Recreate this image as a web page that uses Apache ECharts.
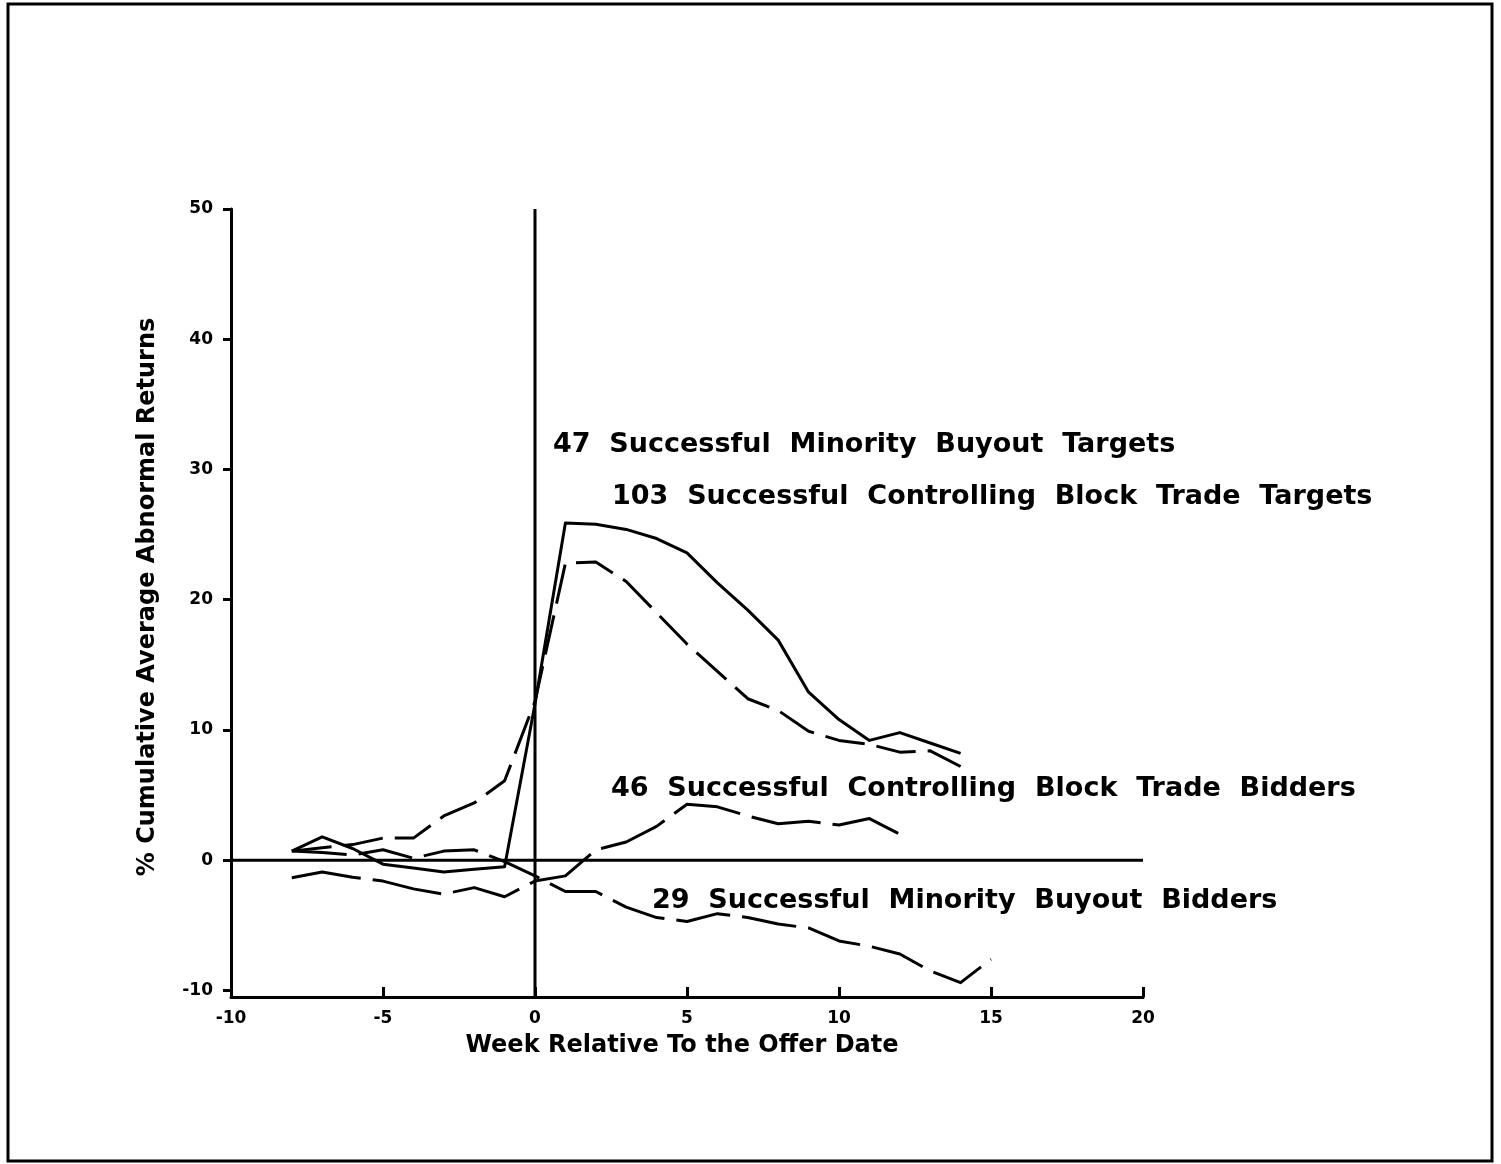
<!DOCTYPE html>
<html>
<head>
<meta charset="utf-8">
<script src="https://cdn.jsdelivr.net/npm/echarts@6/dist/echarts.min.js"></script>
<style>
html,body{margin:0;padding:0;background:#fff;}
#chart{width:1501px;height:1164px;}
</style>
</head>
<body>
<div id="chart"></div>
<script>
// ---- data ----
const weeksTargets = [-8,-7,-6,-5,-4,-3,-2,-1,0,1,2,3,4,5,6,7,8,9,10,11,12,13,14];
const minorityTargets = [0.7,1.8,0.9,-0.3,-0.6,-0.9,-0.7,-0.5,12.0,25.9,25.8,25.4,24.7,23.6,21.3,19.2,16.9,12.9,10.8,9.2,9.8,9.0,8.2];
const controllingTargets = [0.7,0.95,1.2,1.7,1.7,3.4,4.4,6.1,12.2,22.8,22.9,21.4,19.0,16.6,14.5,12.4,11.5,9.9,9.2,8.9,8.3,8.4,7.2];

const weeksMinBidders = [-8,-7,-6,-5,-4,-3,-2,-1,0,1,2,3,4,5,6,7,8,9,10,11,12,13,14,15];
const minorityBidders = [0.7,0.6,0.4,0.8,0.15,0.7,0.8,-0.1,-1.2,-2.4,-2.4,-3.6,-4.4,-4.7,-4.1,-4.4,-4.9,-5.2,-6.2,-6.6,-7.2,-8.5,-9.4,-7.6];

const weeksCtlBidders = [-8,-7,-6,-5,-4,-3,-2,-1,0,1,2,3,4,5,6,7,8,9,10,11,12];
const controllingBidders = [-1.35,-0.9,-1.3,-1.6,-2.2,-2.6,-2.1,-2.8,-1.6,-1.2,0.8,1.4,2.6,4.3,4.1,3.4,2.8,3.0,2.7,3.2,2.0];

const xTicks = [-10,-5,0,5,10,15,20];
const yTicks = [-10,0,10,20,30,40,50];

const seriesLabels = [
  '47  Successful  Minority  Buyout  Targets',
  '103  Successful  Controlling  Block  Trade  Targets',
  '46  Successful  Controlling  Block  Trade  Bidders',
  '29  Successful  Minority  Buyout  Bidders'
];
const xTitle = 'Week Relative To the Offer Date';
const yTitle = '% Cumulative Average Abnormal Returns';

// ---- chart ----
const zip = (xs, ys) => xs.map((x, i) => [x, ys[i]]);
const chart = echarts.init(document.getElementById('chart'), null, {renderer: 'canvas'});
const FONT = '"DejaVu Sans", sans-serif';
const lineBase = (name, data, type) => ({
  name, type: 'line', data, showSymbol: false, symbol: 'none', silent: true,
  lineStyle: {color: '#000', width: 3, type: type, cap: 'butt', join: 'round'},
  z: 3, animation: false
});

const option = {
  animation: false,
  backgroundColor: '#fff',
  grid: {left: 231, right: 358, top: 209, bottom: 167},
  xAxis: {
    type: 'value', min: -10, max: 20, interval: 5,
    axisLine: {onZero: false, lineStyle: {color: '#000', width: 3}},
    axisTick: {inside: true, length: 10, lineStyle: {color: '#000', width: 3}},
    axisLabel: {color: '#000', fontFamily: FONT, fontWeight: 'bold', fontSize: 17, margin: 13,
      customValues: xTicks},
    splitLine: {show: false}
  },
  yAxis: {
    type: 'value', min: -10.5, max: 50,
    axisLine: {show: true, onZero: false, lineStyle: {color: '#000', width: 3}},
    axisTick: {show: true, inside: false, length: 8, customValues: yTicks, lineStyle: {color: '#000', width: 3}},
    axisLabel: {color: '#000', fontFamily: FONT, fontWeight: 'bold', fontSize: 17, margin: 18,
      customValues: yTicks},
    splitLine: {show: false}
  },
  series: [
    lineBase('zero', [[-10, 0], [20, 0]], 'solid'),
    lineBase('event', [[0, -10.5], [0, 50]], 'solid'),
    lineBase(seriesLabels[0], zip(weeksTargets, minorityTargets), 'solid'),
    lineBase(seriesLabels[1], zip(weeksTargets, controllingTargets), [40, 12]),
    lineBase(seriesLabels[2], zip(weeksCtlBidders, controllingBidders), [70, 12]),
    lineBase(seriesLabels[3], zip(weeksMinBidders, minorityBidders), [55, 12])
  ],
  graphic: [
    {type: 'rect', shape: {x: 8, y: 4, width: 1484, height: 1157},
      style: {fill: 'none', stroke: '#000', lineWidth: 3}, silent: true},
    {type: 'text', x: 553, y: 445, style: {text: seriesLabels[0], fill: '#000', font: 'bold 27px ' + FONT, textVerticalAlign: 'middle'}},
    {type: 'text', x: 612, y: 497, style: {text: seriesLabels[1], fill: '#000', font: 'bold 27px ' + FONT, textVerticalAlign: 'middle'}},
    {type: 'text', x: 611, y: 789, style: {text: seriesLabels[2], fill: '#000', font: 'bold 27px ' + FONT, textVerticalAlign: 'middle'}},
    {type: 'text', x: 652, y: 901, style: {text: seriesLabels[3], fill: '#000', font: 'bold 27px ' + FONT, textVerticalAlign: 'middle'}},
    {type: 'text', x: 682, y: 1046, style: {text: xTitle, fill: '#000', font: 'bold 24px ' + FONT, textAlign: 'center', textVerticalAlign: 'middle'}},
    {type: 'text', x: 148, y: 597, rotation: Math.PI / 2, style: {text: yTitle, fill: '#000', font: 'bold 24px ' + FONT, textAlign: 'center', textVerticalAlign: 'middle'}}
  ]
};
chart.setOption(option);
</script>
</body>
</html>
